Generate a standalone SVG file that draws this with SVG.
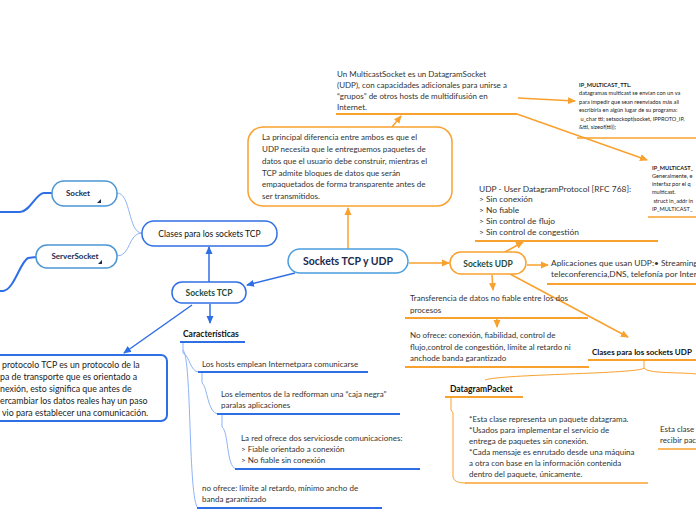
<svg xmlns="http://www.w3.org/2000/svg" width="696" height="520" viewBox="0 0 696 520">
<style>
text{font-family:Lato,"Liberation Sans",sans-serif;fill:#333}
.t8{font-size:8px}
.t9{font-size:8.8px}
.t85{font-size:8.4px}
.tiny{font-size:5.6px;fill:#222}
.b{font-weight:bold}
.node{fill:#fff}
.bl{stroke:#2f6fe6;stroke-width:1.5;fill:none}
.blu{stroke:#2f6fe6;stroke-width:2;fill:none}
.lb{stroke:#8fb3f5;stroke-width:1;fill:none}
.or{stroke:#f9a12e;stroke-width:1.5;fill:none}
.oru{stroke:#f9a12e;stroke-width:2;fill:none}
.ba{marker-end:url(#ab)}
.oa{marker-end:url(#ao)}
</style>
<defs>
<marker id="ab" markerUnits="userSpaceOnUse" markerWidth="8" markerHeight="8" refX="7" refY="4" orient="auto"><path d="M0,0.5 L8,4 L0,7.5 Z" fill="#2f6fe6"/></marker>
<marker id="ao" markerUnits="userSpaceOnUse" markerWidth="8" markerHeight="8" refX="7" refY="4" orient="auto"><path d="M0,0.5 L8,4 L0,7.5 Z" fill="#f9a12e"/></marker>
</defs>
<rect width="696" height="520" fill="#fff"/>
<g id="connectors">
<path class="lb" d="M142,233 C128,233 131,193 117,193"/>
<path class="lb" d="M142,233 C128,233 131,256 117,256"/>
<path class="blu" d="M52,193 L44,193 C36,193 30,212 20,212 L0,212"/>
<path class="blu" d="M36,257 L28,258 C20,262 14,290 3,291 L0,291"/>
<path class="bl ba" d="M209,282 L209,247"/>
<path class="bl ba" d="M295,273 L247,285"/>
<path class="bl ba" d="M210,304 L210,323"/>
<path class="bl ba" d="M192,305 L124,353"/>
<path class="lb" d="M183,342 L183,353 C190,356 190,372 199,372"/>
<path class="lb" d="M183,350 C192,358 188,500 198,508"/>
<path class="lb" d="M202,372 L202,383 C208,388 207,412 218,414"/>
<path class="lb" d="M222,414 L222,427 C229,432 226,466 236,469"/>
<path class="or oa" d="M348,249 L348,208"/>
<path class="or oa" d="M392,127 L401,116"/>
<path class="or oa" d="M518,98 L575,101"/>
<path class="or oa" d="M517,114 L647,160"/>
<path class="or oa" d="M409,263 L449,263"/>
<path class="or oa" d="M505,252 L523,242"/>
<path class="or oa" d="M527,265 L548,265"/>
<path class="or oa" d="M492,275 L493,290"/>
<path class="or oa" d="M510,274 L628,337"/>
<path class="or oa" d="M497,319 L497,327"/>
<path class="or" style="stroke-width:1" d="M644,360 L644,368 C640,374 500,374 485,380"/>
<path class="or" style="stroke-width:1" d="M644,368 C648,374 680,372 696,374"/>
<path class="or" style="stroke-width:1" d="M451,397 L451,410 L453,413 L453,476 C453,481 458,483 466,483"/>
</g>
<g id="n-central">
<rect class="node" x="288" y="249" width="120" height="24" rx="12" stroke="#4a9fe0" stroke-width="1.5"/>
<text x="348" y="265" text-anchor="middle" class="b" style="font-size:10.5px;fill:#1b2a4e">Sockets TCP y UDP</text>
</g>
<g id="n-tcp">
<rect class="node bl" x="172" y="282" width="74" height="21" rx="10" style="fill:#fff"/>
<text x="209" y="296" text-anchor="middle" class="b" style="font-size:8.5px;fill:#1e4d3a">Sockets TCP</text>
</g>
<g id="n-clases-tcp">
<rect class="bl" x="142" y="221" width="135" height="25" rx="12" style="fill:#fff"/>
<text x="209.5" y="237" text-anchor="middle" style="font-size:8.5px;fill:#111">Clases para los sockets TCP</text>
</g>
<g id="n-socket">
<rect x="52" y="181" width="65" height="25" rx="12" fill="#fff" stroke="#4b95d3" stroke-width="1.5"/>
<text x="78" y="196" text-anchor="middle" class="b" style="font-size:8px;fill:#1b2a4e">Socket</text>
<polygon points="101,199 101,203 97,203" fill="#1b2a4e"/>
</g>
<g id="n-serversocket">
<rect x="36" y="245" width="81" height="23" rx="11" fill="#fff" stroke="#4b95d3" stroke-width="1.5"/>
<text x="75" y="259" text-anchor="middle" class="b" style="font-size:8px;fill:#1b2a4e">ServerSocket</text>
<polygon points="102,260 102,264 98,264" fill="#1b2a4e"/>
</g>
<g id="n-tcp-def">
<rect x="-10" y="355" width="177" height="66" rx="6" fill="#fff" stroke="#2f6fe6" stroke-width="2"/>
<text class="t9" style="fill:#222"><tspan x="2" y="368">protocolo TCP es un protocolo de la</tspan><tspan x="0" y="380">pa de transporte que es orientado a</tspan><tspan x="0" y="392">nexión, esto significa que antes de</tspan><tspan x="0" y="404">ercambiar los datos reales hay un paso</tspan><tspan x="2" y="416">vio para establecer una comunicación.</tspan></text>
</g>
<g id="n-caracteristicas">
<text x="183" y="337" class="b" style="font-size:8.5px;fill:#111">Características</text>
<line class="blu" x1="180" y1="342" x2="245" y2="342"/>
</g>
<g id="n-hosts">
<text x="202" y="367" class="t8">Los hosts emplean Internetpara comunicarse</text>
<line class="blu" x1="198" y1="372" x2="368" y2="372"/>
</g>
<g id="n-elementos">
<text class="t8"><tspan x="221" y="397">Los elementos de la redforman una “caja negra”</tspan><tspan x="221" y="408">paralas aplicaciones</tspan></text>
<line class="blu" x1="217" y1="414" x2="400" y2="414"/>
</g>
<g id="n-red">
<text class="t8"><tspan x="241" y="441">La red ofrece dos serviciosde comunicaciones:</tspan><tspan x="241" y="452">&gt; Fiable orientado a conexión</tspan><tspan x="241" y="463">&gt; No fiable sin conexión</tspan></text>
<line class="blu" x1="235" y1="469" x2="420" y2="469"/>
</g>
<g id="n-noofrece-tcp">
<text class="t8"><tspan x="202" y="491">no ofrece: límite al retardo, mínimo ancho de</tspan><tspan x="202" y="502">banda garantizado</tspan></text>
<line class="blu" x1="197" y1="508" x2="382" y2="508"/>
</g>
<g id="n-diferencia">
<rect x="248" y="127" width="204" height="79" rx="15" fill="#fff" stroke="#f9a12e" stroke-width="1.5"/>
<text class="t8"><tspan x="262" y="140">La principal diferencia entre ambos es que el</tspan><tspan x="262" y="152">UDP necesita que le entreguemos paquetes de</tspan><tspan x="262" y="164">datos que el usuario debe construir, mientras el</tspan><tspan x="262" y="176">TCP admite bloques de datos que serán</tspan><tspan x="262" y="187">empaquetados de forma transparente antes de</tspan><tspan x="262" y="199">ser transmitidos.</tspan></text>
</g>
<g id="n-multicast">
<text class="t8"><tspan x="337" y="77"> Un MulticastSocket es un DatagramSocket</tspan><tspan x="337" y="88">(UDP), con capacidades adicionales para unirse a</tspan><tspan x="337" y="99">“grupos” de otros hosts de multidifusión en</tspan><tspan x="337" y="110">Internet.</tspan></text>
<line class="oru" x1="336" y1="114" x2="517" y2="114"/>
</g>
<g id="n-ttl">
<text class="tiny"><tspan x="579" y="87" class="b">IP_MULTICAST_TTL.</tspan><tspan x="579" y="95">datagramas multicast se envían con un va</tspan><tspan x="579" y="104">para impedir que sean reenviados más all</tspan><tspan x="579" y="112">escribirla en algún lugar de su programa:</tspan><tspan x="579" y="121"> u_char ttl; setsockopt(socket, IPPROTO_IP,</tspan><tspan x="579" y="129">&amp;ttl, sizeof(ttl));</tspan></text>
<line class="or" x1="577" y1="138" x2="696" y2="138"/>
</g>
<g id="n-if">
<text class="tiny"><tspan x="652" y="170" class="b">IP_MULTICAST_</tspan><tspan x="652" y="178">Generalmente, e</tspan><tspan x="652" y="186">interfaz por el q</tspan><tspan x="652" y="194">multicast.</tspan><tspan x="652" y="203"> struct in_addr in</tspan><tspan x="652" y="211">IP_MULTICAST_</tspan></text>
<line class="or" x1="648" y1="217" x2="696" y2="217"/>
</g>
<g id="n-udp">
<rect x="450" y="252" width="76" height="22" rx="11" fill="#fff" stroke="#f9a12e" stroke-width="1.5"/>
<text x="488" y="267" text-anchor="middle" class="b" style="font-size:8.5px;fill:#1e4d3a">Sockets UDP</text>
</g>
<g id="n-udp-def">
<text class="t85"><tspan x="479" y="192">UDP - User DatagramProtocol [RFC 768]:</tspan><tspan x="479" y="202">&gt; Sin conexión</tspan><tspan x="479" y="213">&gt; No fiable</tspan><tspan x="479" y="224">&gt; Sin control de flujo</tspan><tspan x="479" y="235">&gt; Sin control de congestión</tspan></text>
<line class="oru" x1="475" y1="241" x2="658" y2="241"/>
</g>
<g id="n-aplicaciones">
<text class="t85"><tspan x="551" y="266">Aplicaciones que usan UDP:• Streaming</tspan><tspan x="551" y="277">teleconferencia,DNS, telefonía por Inter</tspan></text>
<line class="oru" x1="547" y1="284" x2="696" y2="284"/>
</g>
<g id="n-transferencia">
<text class="t8"><tspan x="410" y="301">Transferencia de datos no fiable entre los dos</tspan><tspan x="410" y="313">procesos</tspan></text>
<line class="oru" x1="405" y1="318" x2="588" y2="318"/>
</g>
<g id="n-noofrece-udp">
<text class="t8"><tspan x="410" y="338">No ofrece: conexión, fiabilidad, control de</tspan><tspan x="410" y="350">flujo,control de congestión, límite al retardo ni</tspan><tspan x="410" y="361">anchode banda garantizado</tspan></text>
<line class="oru" x1="405" y1="367" x2="589" y2="367"/>
</g>
<g id="n-clases-udp">
<text x="592" y="355" class="b" style="font-size:8px;fill:#111">Clases para los sockets UDP</text>
<line class="oru" x1="588" y1="360" x2="696" y2="360"/>
</g>
<g id="n-datagrampacket">
<text x="450" y="392" class="b" style="font-size:8.5px;fill:#111">DatagramPacket</text>
<line class="oru" x1="445" y1="397" x2="523" y2="397"/>
</g>
<g id="n-dp-def">
<text class="t8"><tspan x="469" y="422">*Esta clase representa un paquete datagrama.</tspan><tspan x="469" y="433">*Usados para implementar el servicio de</tspan><tspan x="469" y="444">entrega de paquetes sin conexión.</tspan><tspan x="469" y="455">*Cada mensaje es enrutado desde una máquina</tspan><tspan x="469" y="466">a otra con base en la información contenida</tspan><tspan x="469" y="477">dentro del paquete, únicamente.</tspan></text>
<line class="or" x1="465" y1="483" x2="648" y2="483"/>
</g>
<g id="n-esta-clase">
<text class="t8"><tspan x="660" y="432">Esta clase</tspan><tspan x="660" y="443">recibir pac</tspan></text>
<line class="or" x1="658" y1="449" x2="696" y2="449"/>
</g>
</svg>
